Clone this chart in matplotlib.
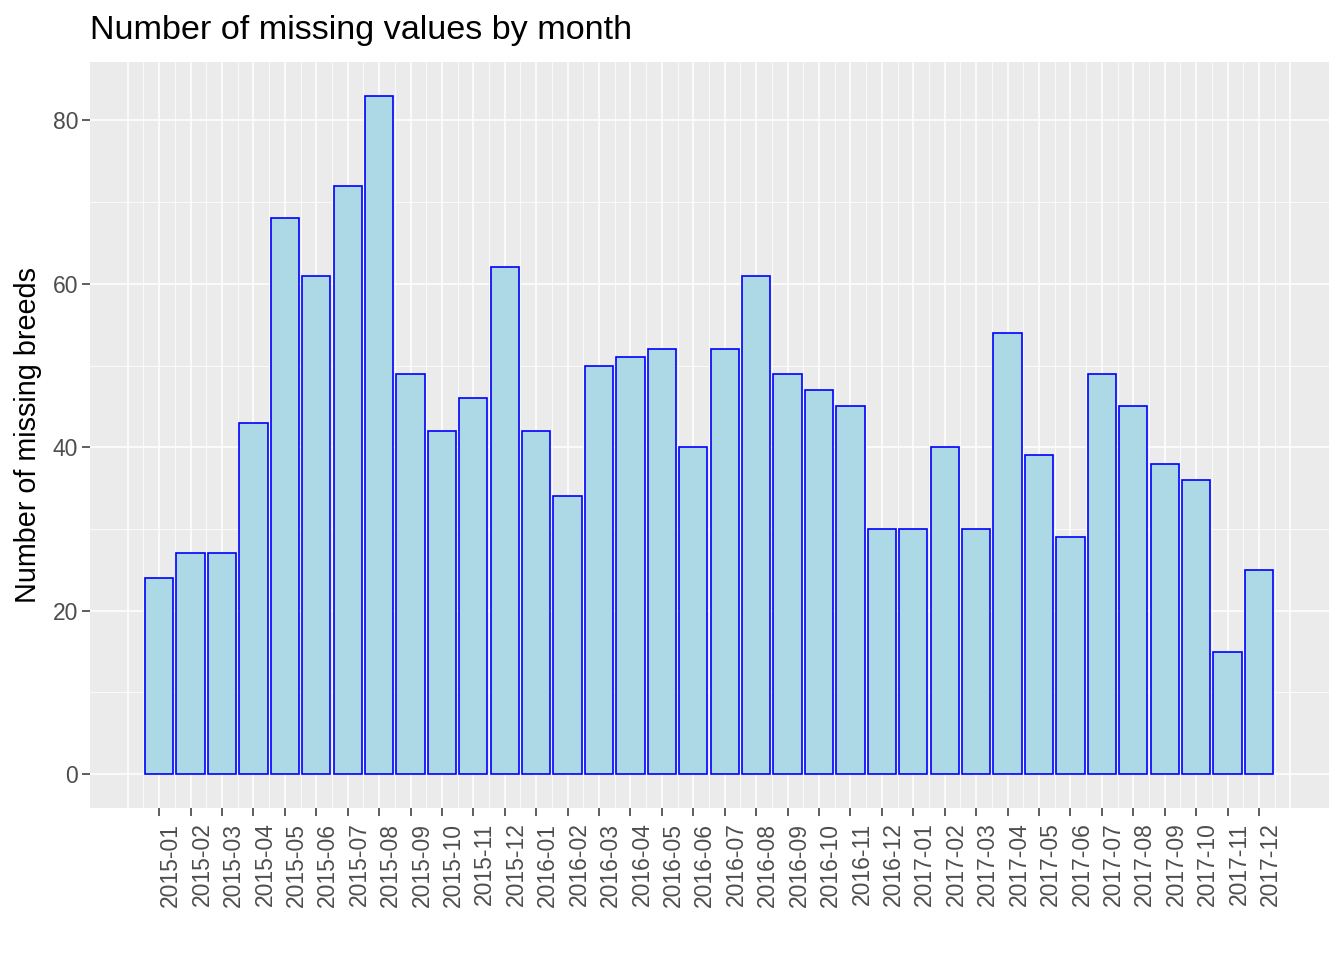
import numpy as np
import matplotlib
matplotlib.use("Agg")
import matplotlib.pyplot as plt

# Monthly counts of missing breed values
months = ["2015-01", "2015-02", "2015-03", "2015-04", "2015-05", "2015-06",
          "2015-07", "2015-08", "2015-09", "2015-10", "2015-11", "2015-12",
          "2016-01", "2016-02", "2016-03", "2016-04", "2016-05", "2016-06",
          "2016-07", "2016-08", "2016-09", "2016-10", "2016-11", "2016-12",
          "2017-01", "2017-02", "2017-03", "2017-04", "2017-05", "2017-06",
          "2017-07", "2017-08", "2017-09", "2017-10", "2017-11", "2017-12"]
missing = [24, 27, 27, 43, 68, 61, 72, 83, 49, 42, 46, 62,
           42, 34, 50, 51, 52, 40, 52, 61, 49, 47, 45, 30,
           30, 40, 30, 54, 39, 29, 49, 45, 38, 36, 15, 25]

plt.rcParams['font.family'] = ['Liberation Sans', 'DejaVu Sans']

fig = plt.figure(figsize=(13.44, 9.6), dpi=100)
ax = fig.add_axes([90 / 1344, 152 / 960, 1239 / 1344, 746 / 960])
ax.set_facecolor("#EBEBEB")

x = np.arange(len(months))

# grid (ggplot style: majors at months, minors halfway)
for g in np.arange(-1, len(months) + 1):
    ax.axvline(g, color="white", lw=1.1, zorder=0)
for g in np.arange(-0.5, len(months), 1.0):
    ax.axvline(g, color="white", lw=0.55, zorder=0)
for g in [0, 20, 40, 60, 80]:
    ax.axhline(g, color="white", lw=1.1, zorder=0)
for g in [10, 30, 50, 70]:
    ax.axhline(g, color="white", lw=0.55, zorder=0)

ax.bar(x, missing, width=0.9, color="#ADD8E6", edgecolor="blue",
       linewidth=1.2, zorder=2)

ax.set_xlim(-2.2, len(months) - 1 + 2.23)
ax.set_ylim(-83 * 0.05, 83 * 1.05)

ax.set_xticks(x)
ax.set_xticklabels(months, rotation=90, ha="left", va="top")
ax.set_yticks([0, 20, 40, 60, 80])

ax.tick_params(axis="both", colors="#333333", length=5.5, width=1.1,
               labelsize=16.5, labelcolor="#4D4D4D")
ax.tick_params(axis="x", pad=5)
ax.tick_params(axis="y", pad=3)

for s in ax.spines.values():
    s.set_visible(False)

ax.set_ylabel("Number of missing breeds", fontsize=20.7, labelpad=8)
fig.text(90 / 1344, 1 - 30 / 960, "Number of missing values by month",
         fontsize=24.6, ha="left", va="center")

fig.savefig("out.png", dpi=100)
